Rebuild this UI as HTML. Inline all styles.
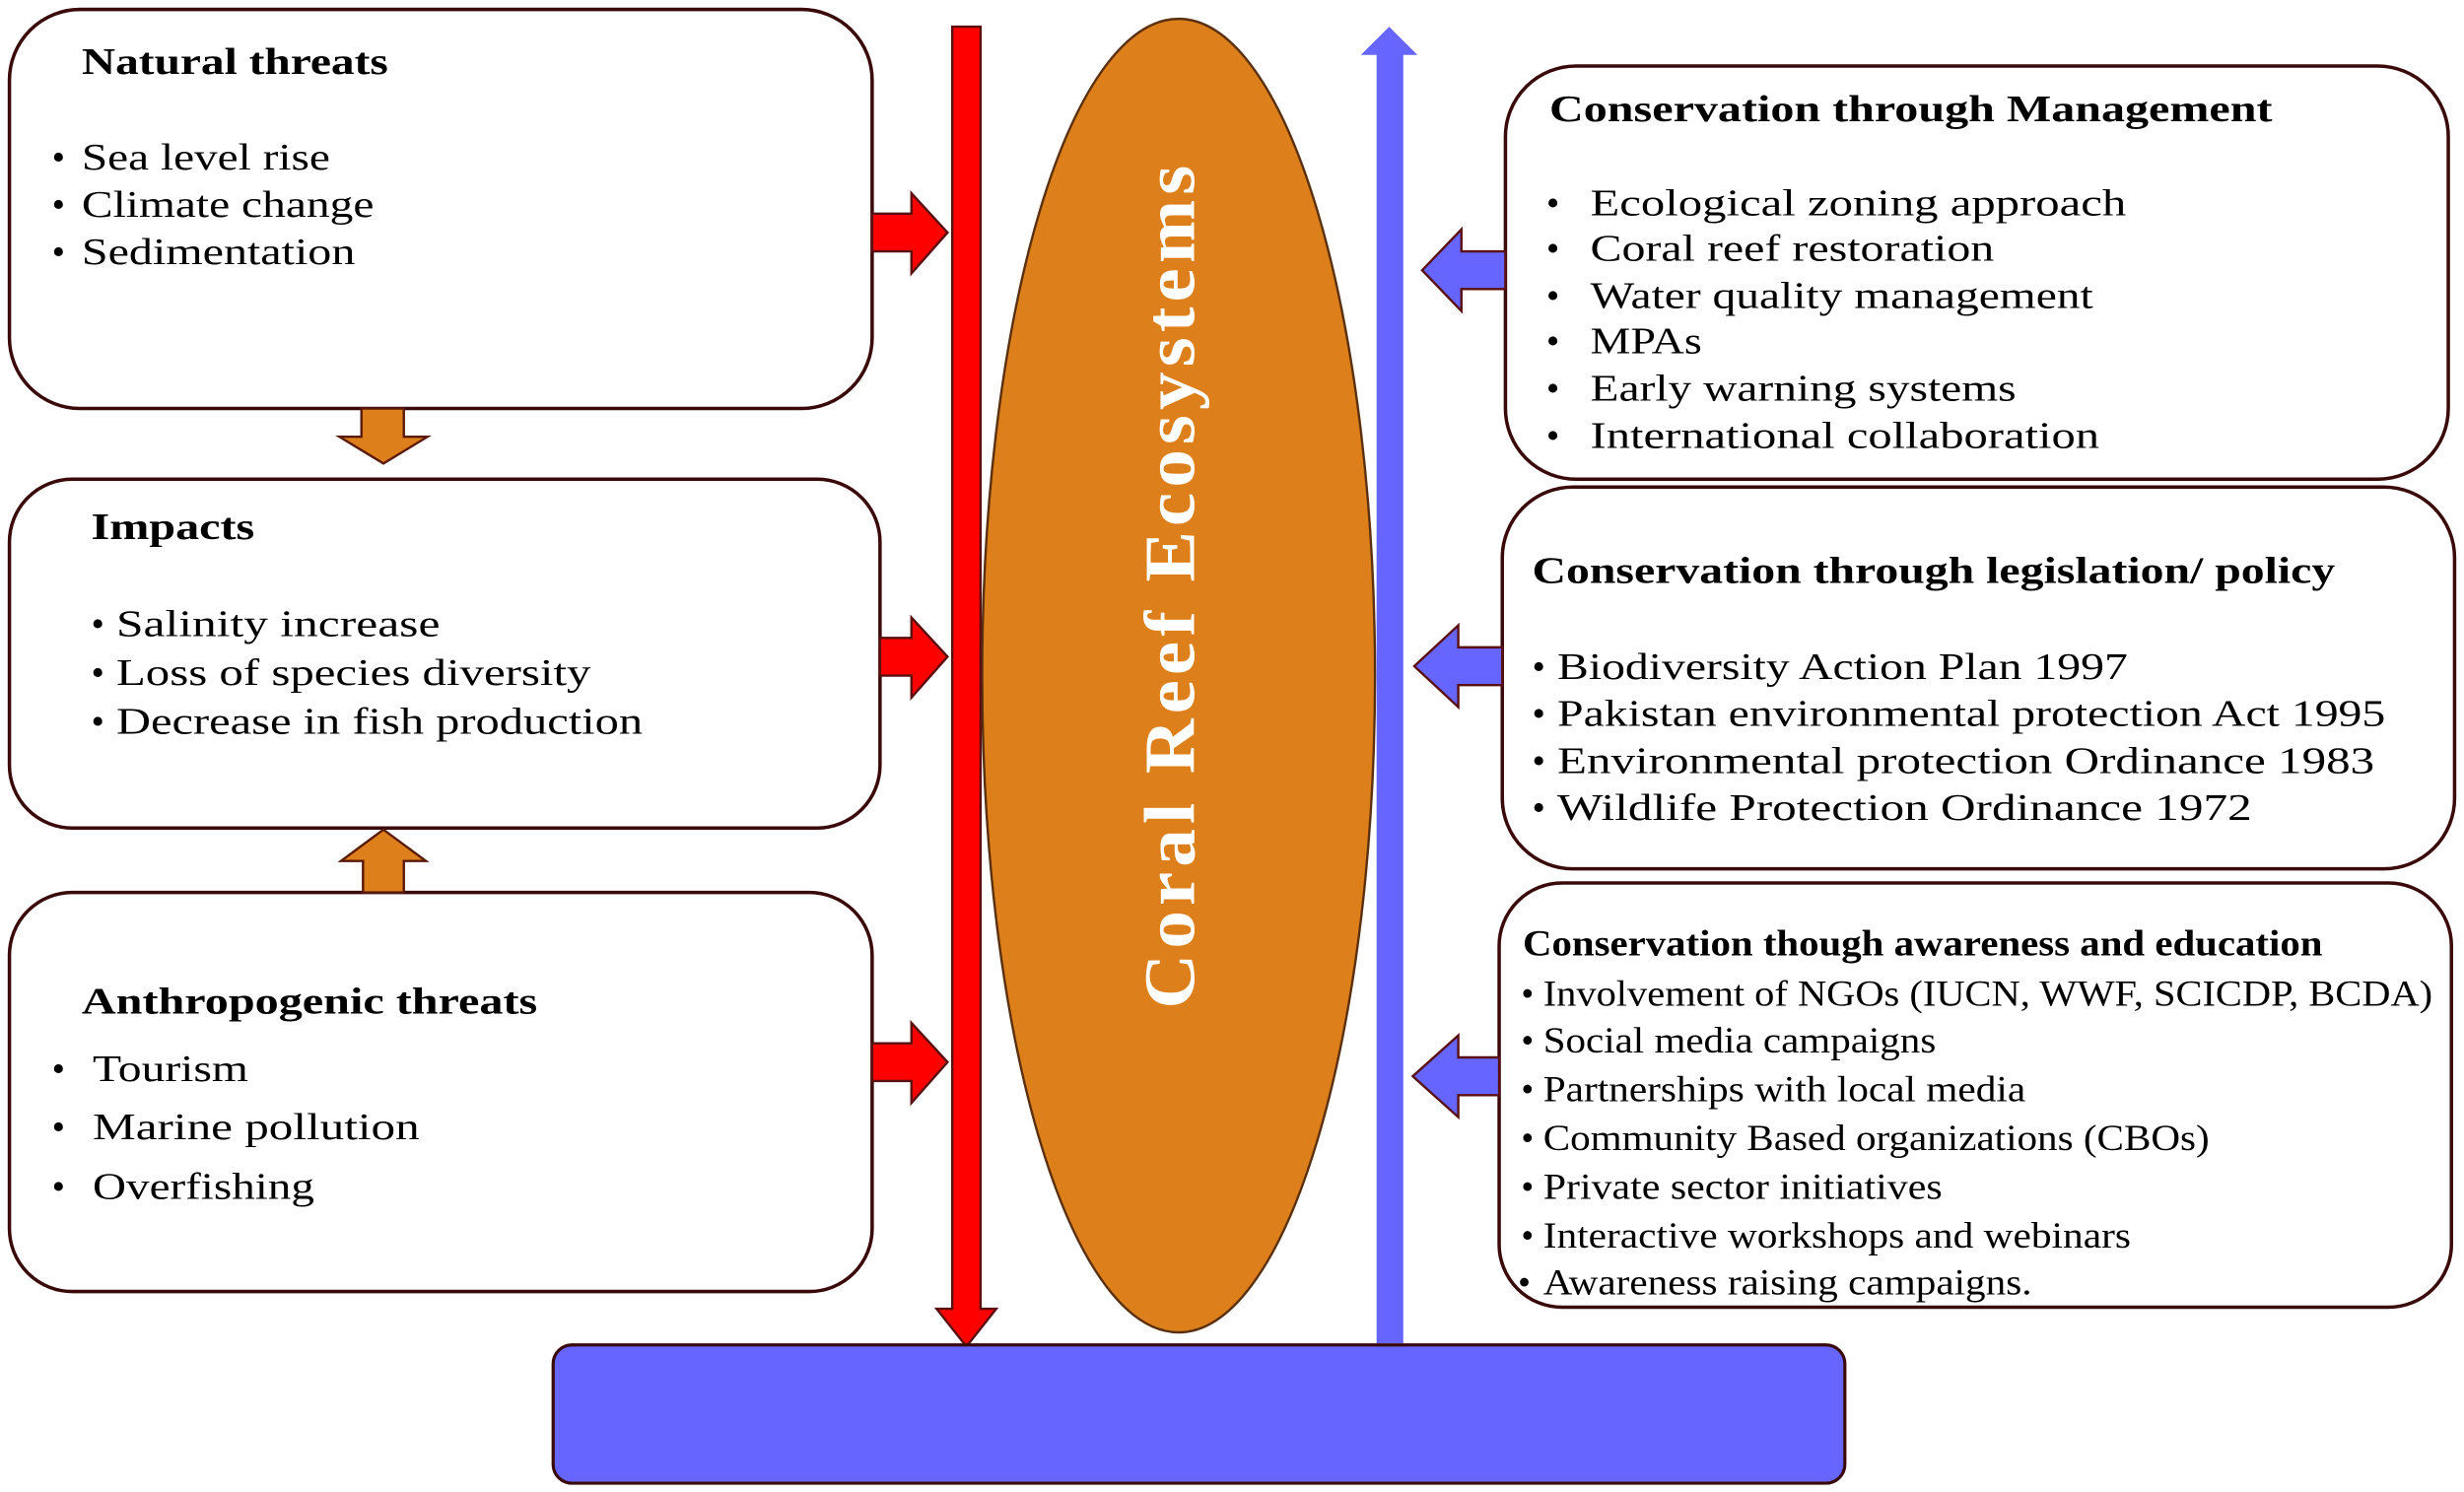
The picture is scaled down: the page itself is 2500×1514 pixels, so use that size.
<!DOCTYPE html>
<html><head><meta charset="utf-8"><style>
html,body{margin:0;padding:0;background:#fff;}
svg{display:block;}
text{font-family:"Liberation Serif",serif;fill:#000;}
.t{font-weight:bold;font-size:24px;}
.b{font-size:24px;}
</style></head><body>
<svg width="2500" height="1514" viewBox="0 0 1568 949.6" preserveAspectRatio="none" xmlns="http://www.w3.org/2000/svg">
<g stroke="#3a0a0a" stroke-width="2.2" fill="#fff">
<rect x="6" y="6" width="549" height="254" rx="45"/>
<rect x="6" y="305" width="554" height="222" rx="40"/>
<rect x="6" y="568" width="549" height="254" rx="40"/>
<rect x="958" y="42" width="600" height="263" rx="45"/>
<rect x="956" y="310" width="606" height="243" rx="45"/>
<rect x="954" y="562" width="606" height="270" rx="40"/>
</g>
<!-- ellipse -->
<ellipse cx="750" cy="430" rx="125" ry="418" fill="#dd801b" stroke="#5a3010" stroke-width="1.5"/>
<text transform="translate(760,372) rotate(-90)" text-anchor="middle" style="font-weight:bold;font-size:46px;fill:#fff;letter-spacing:3px" textLength="540" lengthAdjust="spacingAndGlyphs">Coral Reef Ecosystems</text>
<!-- red vertical arrow -->
<polygon points="606,17 624,17 624,833 634,833 615,857 596,833 606,833" fill="#ff0000" stroke="#5a1010" stroke-width="1.5"/>
<!-- blue vertical arrow -->
<polygon points="876,855 893,855 893,35 902,35 884,17 866,35 876,35" fill="#6666ff"/>
<!-- red small arrows -->
<g fill="#ff0000" stroke="#5a1010" stroke-width="1.5">
<polygon points="555,136 580,136 580,123 603,148 580,174 580,160 555,160"/>
<polygon points="560,406 580,406 580,393 603,418 580,444 580,430 560,430"/>
<polygon points="555,664 580,664 580,651 603,676 580,702 580,688 555,688"/>
</g>
<!-- blue small arrows -->
<g fill="#6666ff" stroke="#5a1010" stroke-width="1.5">
<polygon points="958,160 930,160 930,146 905,172 930,198 930,184 958,184"/>
<polygon points="956,412 928,412 928,398 900,424 928,450 928,436 956,436"/>
<polygon points="954,673 928,673 928,659 899,685 928,711 928,697 954,697"/>
</g>
<!-- orange arrows -->
<g fill="#dd801b" stroke="#5a1a0a" stroke-width="1.5">
<polygon points="230,260 257,260 257,278 272,278 244,295 216,278 230,278"/>
<polygon points="231,568 257,568 257,548 271,548 244,528 217,548 231,548"/>
</g>
<!-- bottom box -->
<rect x="352" y="856" width="822" height="88" rx="12" fill="#6666ff" stroke="#3a0a0a" stroke-width="2"/>

<!-- left texts -->
<text class="t" x="52" y="47" textLength="195" lengthAdjust="spacingAndGlyphs">Natural threats</text>
<text class="b" x="33" y="108">•</text><text class="b" x="52" y="108" textLength="158" lengthAdjust="spacingAndGlyphs">Sea level rise</text>
<text class="b" x="33" y="138">•</text><text class="b" x="52" y="138" textLength="186" lengthAdjust="spacingAndGlyphs">Climate change</text>
<text class="b" x="33" y="168">•</text><text class="b" x="52" y="168" textLength="174" lengthAdjust="spacingAndGlyphs">Sedimentation</text>

<text class="t" x="58" y="343" textLength="104" lengthAdjust="spacingAndGlyphs">Impacts</text>
<text class="b" x="58" y="405">•</text><text class="b" x="74" y="405" textLength="206" lengthAdjust="spacingAndGlyphs">Salinity increase</text>
<text class="b" x="58" y="436">•</text><text class="b" x="74" y="436" textLength="302" lengthAdjust="spacingAndGlyphs">Loss of species diversity</text>
<text class="b" x="58" y="467">•</text><text class="b" x="74" y="467" textLength="335" lengthAdjust="spacingAndGlyphs">Decrease in fish production</text>

<text class="t" x="52" y="645" textLength="290" lengthAdjust="spacingAndGlyphs">Anthropogenic threats</text>
<text class="b" x="33" y="688">•</text><text class="b" x="59" y="688" textLength="99" lengthAdjust="spacingAndGlyphs">Tourism</text>
<text class="b" x="33" y="725">•</text><text class="b" x="59" y="725" textLength="208" lengthAdjust="spacingAndGlyphs">Marine  pollution</text>
<text class="b" x="33" y="763">•</text><text class="b" x="59" y="763" textLength="141" lengthAdjust="spacingAndGlyphs">Overfishing</text>

<!-- right texts -->
<text class="t" x="986" y="77" textLength="460" lengthAdjust="spacingAndGlyphs">Conservation through  Management</text>
<text class="b" x="984" y="137">•</text><text class="b" x="1012" y="137" textLength="341" lengthAdjust="spacingAndGlyphs">Ecological zoning  approach</text>
<text class="b" x="984" y="166">•</text><text class="b" x="1012" y="166" textLength="257" lengthAdjust="spacingAndGlyphs">Coral reef restoration</text>
<text class="b" x="984" y="196">•</text><text class="b" x="1012" y="196" textLength="320" lengthAdjust="spacingAndGlyphs">Water quality management</text>
<text class="b" x="984" y="225">•</text><text class="b" x="1012" y="225" textLength="71" lengthAdjust="spacingAndGlyphs">MPAs</text>
<text class="b" x="984" y="255">•</text><text class="b" x="1012" y="255" textLength="271" lengthAdjust="spacingAndGlyphs">Early warning systems</text>
<text class="b" x="984" y="285">•</text><text class="b" x="1012" y="285" textLength="324" lengthAdjust="spacingAndGlyphs">International collaboration</text>

<text class="t" x="975" y="371" textLength="511" lengthAdjust="spacingAndGlyphs">Conservation through legislation/ policy</text>
<text class="b" x="975" y="432">•</text><text class="b" x="991" y="432" textLength="363" lengthAdjust="spacingAndGlyphs">Biodiversity Action Plan 1997</text>
<text class="b" x="975" y="462">•</text><text class="b" x="991" y="462" textLength="527" lengthAdjust="spacingAndGlyphs">Pakistan environmental protection Act 1995</text>
<text class="b" x="975" y="492">•</text><text class="b" x="991" y="492" textLength="520" lengthAdjust="spacingAndGlyphs">Environmental protection Ordinance   1983</text>
<text class="b" x="975" y="522">•</text><text class="b" x="991" y="522" textLength="442" lengthAdjust="spacingAndGlyphs">Wildlife Protection Ordinance   1972</text>

<text class="t" x="969" y="608" style="font-size:23px" textLength="509" lengthAdjust="spacingAndGlyphs">Conservation though awareness and education</text>
<g style="font-size:23px">
<text x="968" y="640">•</text><text x="982" y="640" style="font-size:23px" textLength="566" lengthAdjust="spacingAndGlyphs">Involvement of NGOs (IUCN, WWF, SCICDP, BCDA)</text>
<text x="968" y="670">•</text><text x="982" y="670" style="font-size:23px" textLength="250" lengthAdjust="spacingAndGlyphs">Social media campaigns</text>
<text x="968" y="701">•</text><text x="982" y="701" style="font-size:23px" textLength="307" lengthAdjust="spacingAndGlyphs">Partnerships with local media</text>
<text x="968" y="732">•</text><text x="982" y="732" style="font-size:23px" textLength="424" lengthAdjust="spacingAndGlyphs">Community Based organizations (CBOs)</text>
<text x="968" y="763">•</text><text x="982" y="763" style="font-size:23px" textLength="254" lengthAdjust="spacingAndGlyphs">Private sector initiatives</text>
<text x="968" y="794">•</text><text x="982" y="794" style="font-size:23px" textLength="374" lengthAdjust="spacingAndGlyphs">Interactive workshops and webinars</text>
<text x="966" y="824">•</text><text x="982" y="824" style="font-size:23px" textLength="311" lengthAdjust="spacingAndGlyphs">Awareness raising campaigns.</text>
</g>
</svg>
</body></html>
